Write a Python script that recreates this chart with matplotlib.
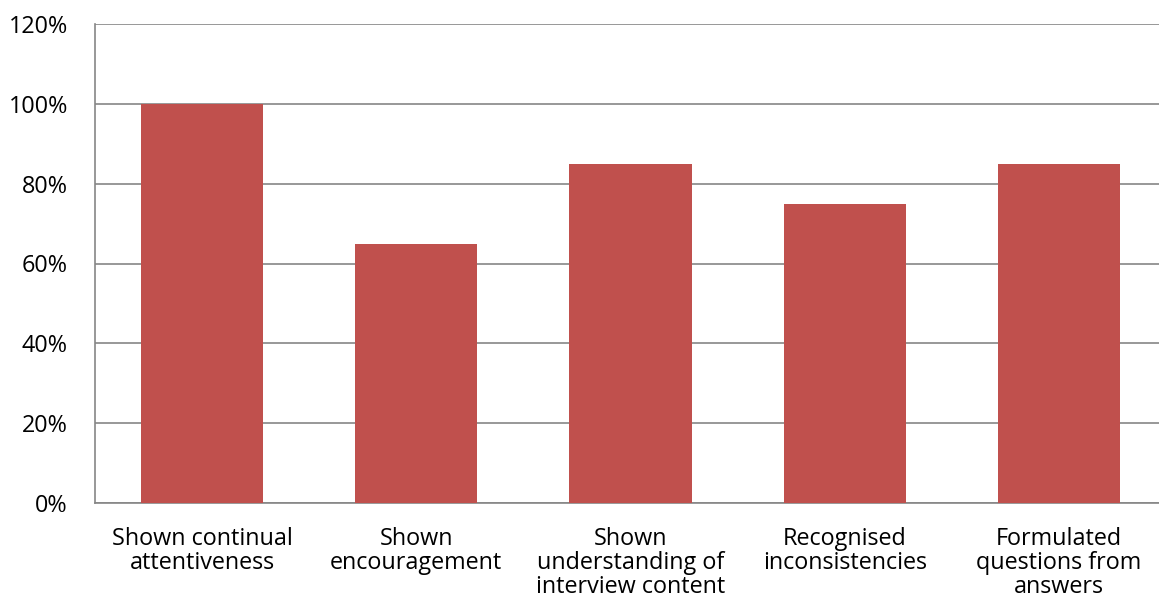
import matplotlib.pyplot as plt
from matplotlib.ticker import PercentFormatter

categorias = [
    "Shown continual\nattentiveness",
    "Shown\nencouragement",
    "Shown\nunderstanding of\ninterview content",
    "Recognised\ninconsistencies",
    "Formulated\nquestions from\nanswers",
]
porcentajes = [100, 65, 85, 75, 85]
ticks_y = [0, 20, 40, 60, 80, 100, 120]

plt.rcParams['font.family'] = ['Open Sans', 'DejaVu Sans']

fig = plt.figure(figsize=(11.59, 6.12), dpi=100)
# el área del gráfico sigue un poco más allá del borde derecho
ax = fig.add_axes([95 / 1159, 1 - 503 / 612, 1071 / 1159, 479 / 612])

x = range(len(categorias))
ax.bar(x, porcentajes, width=0.57, color='#C0504D', zorder=3)

ax.set_xlim(-0.5, len(categorias) - 0.5)
ax.set_ylim(0, 120)
ax.set_yticks(ticks_y)
ax.yaxis.set_major_formatter(PercentFormatter(decimals=0))
ax.set_xticks(list(x))
ax.set_xticklabels(categorias, fontsize=16.8, linespacing=1.0)

ax.grid(axis='y', color='#868686', linewidth=1.2, zorder=0)
ax.tick_params(axis='y', length=0, pad=19.5, labelsize=16.8)
ax.tick_params(axis='x', length=0, pad=17)

for lado in ['top', 'right']:
    ax.spines[lado].set_visible(False)
for lado in ['left', 'bottom']:
    ax.spines[lado].set_color('#868686')
    ax.spines[lado].set_linewidth(1.2)

fig.savefig('out.png', dpi=100)
